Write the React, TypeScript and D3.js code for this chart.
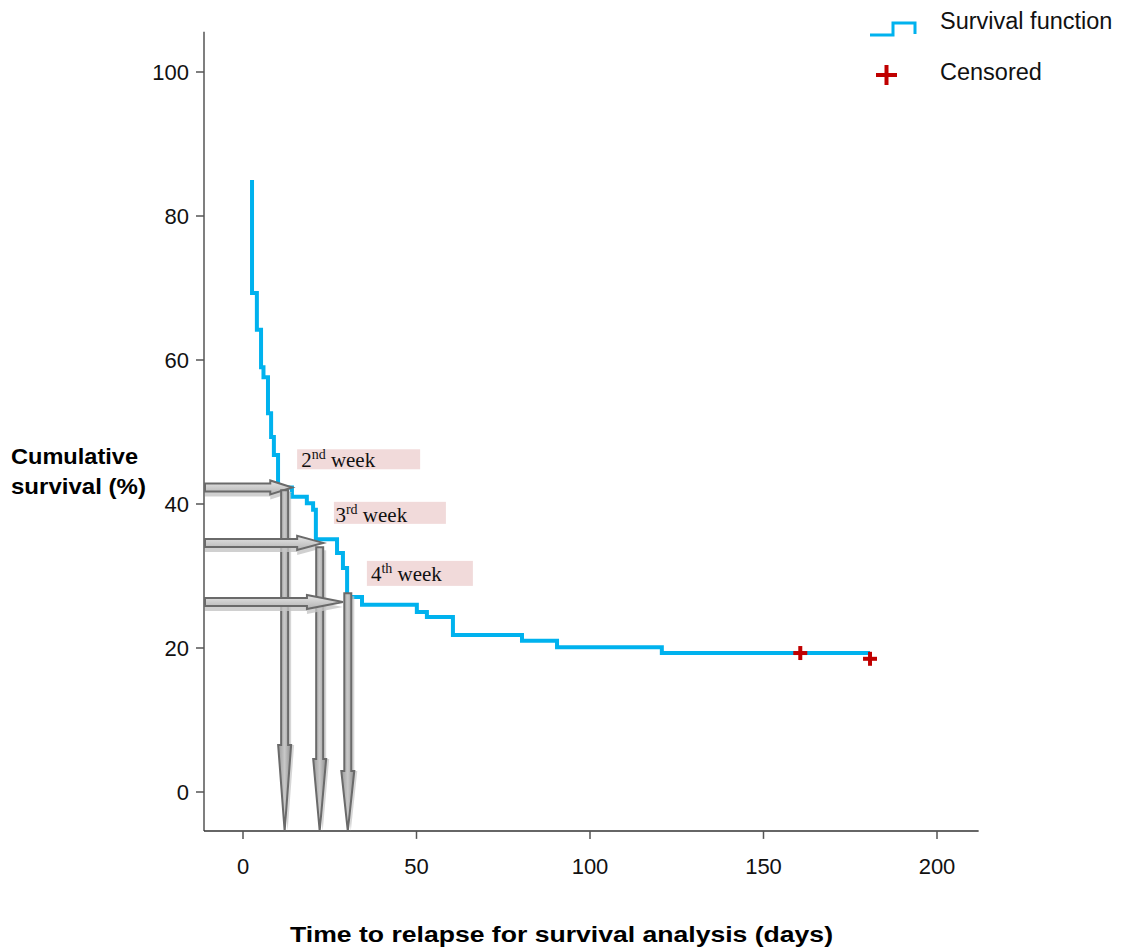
import React from "react";
import * as d3 from "d3";

// survival curve: start point, then step times with value after each step
const startPoint: [number, number] = [2.6, 85];
const stepTimes = [2.6, 4.0, 5.2, 5.9, 7.2, 8.1, 8.9, 10.1, 14.1, 18.4, 20.2, 21.0, 27.1, 28.8, 30.0, 34.3, 50.1, 53.0, 60.5, 80.4, 90.5, 120.7];
const stepValues = [69.3, 64.2, 59.0, 57.6, 52.6, 49.3, 46.8, 42.3, 41.0, 40.1, 39.2, 35.1, 33.2, 31.1, 27.1, 26.0, 25.0, 24.3, 21.8, 21.0, 20.1, 19.3];
const endTime = 180.7;

const censoredTimes = [160.6, 180.7];
const censoredValues = [19.3, 18.5];

// week markers
const weekNums = ["2", "3", "4"];
const weekSups = ["nd", "rd", "th"];
const weekSurv = [42.3, 34.6, 26.4]; // horizontal arrow level
const weekHTip = [14.2, 23.1, 28.8]; // where horizontal arrow ends
const weekDay = [12.0, 22.1, 30.2]; // vertical arrow position
const weekVTop = [41.9, 34.0, 27.6]; // vertical arrow top
const labelDay = [15.6, 26.2, 35.7];
const labelSurv = [47.6, 40.3, 32.1];

const xTicks = [0, 50, 100, 150, 200];
const yTicks = [0, 20, 40, 60, 80, 100];

const BLUE = "#00b2ee";
const RED = "#c00000";
const sans = "'Liberation Sans', Arial, sans-serif";
const serif = "'Liberation Serif', 'Times New Roman', serif";

// styles per week marker
const hHeadLen = [22, 26, 36];
const vHeadLen = [86, 72, 60];
const boxW = [123, 112, 106];
const boxH = [20, 22, 25];

export default function App() {
  const x = d3.scaleLinear().domain([0, 200]).range([243, 937]);
  const y = d3.scaleLinear().domain([0, 100]).range([792, 72]);
  const axisY0 = y(-5.4);

  const pts: [number, number][] = [startPoint];
  stepTimes.forEach((t, i) => pts.push([t, stepValues[i]]));
  pts.push([endTime, stepValues[stepValues.length - 1]]);
  const line = d3
    .line<[number, number]>()
    .x((d) => x(d[0]))
    .y((d) => y(d[1]))
    .curve(d3.curveStepAfter);

  const hArrow = (x0: number, x1: number, cy: number, sw: number, hw: number, hl: number) =>
    [
      [x0, cy - sw],
      [x1 - hl, cy - sw],
      [x1 - hl, cy - hw],
      [x1, cy],
      [x1 - hl, cy + hw],
      [x1 - hl, cy + sw],
      [x0, cy + sw],
    ]
      .map((p) => p.join(","))
      .join(" ");
  const vArrow = (cx: number, y0: number, y1: number, sw: number, hw: number, hl: number) =>
    [
      [cx - sw, y0],
      [cx + sw, y0],
      [cx + sw, y1 - hl],
      [cx + hw, y1 - hl],
      [cx, y1],
      [cx - hw, y1 - hl],
      [cx - sw, y1 - hl],
    ]
      .map((p) => p.join(","))
      .join(" ");

  return (
    <svg width={1122} height={949} style={{ position: "absolute", left: 0, top: 0 }}>
      <defs>
        <linearGradient id="hg" x1="0" y1="0" x2="0" y2="1">
          <stop offset="0" stopColor="#e6e6e6" />
          <stop offset="1" stopColor="#b4b4b4" />
        </linearGradient>
        <linearGradient id="vg" x1="0" y1="0" x2="1" y2="0">
          <stop offset="0" stopColor="#9a9a9a" />
          <stop offset="0.5" stopColor="#c8c8c8" />
          <stop offset="1" stopColor="#8e8e8e" />
        </linearGradient>
      </defs>
      <rect width={1122} height={949} fill="#fff" />

      {/* axes */}
      <line x1={204} x2={204} y1={y(105.6)} y2={axisY0} stroke="#555" strokeWidth={1.5} />
      <line x1={204} x2={x(212)} y1={axisY0} y2={axisY0} stroke="#333" strokeWidth={1.5} />
      {yTicks.map((t) => (
        <g key={"y" + t}>
          <line x1={196} x2={204} y1={y(t)} y2={y(t)} stroke="#555" strokeWidth={1.5} />
          <text x={189} y={y(t)} dy="0.36em" textAnchor="end" fontFamily={sans} fontSize={22} fill="#111">
            {t}
          </text>
        </g>
      ))}
      {xTicks.map((t) => (
        <g key={"x" + t}>
          <line x1={x(t)} x2={x(t)} y1={axisY0} y2={axisY0 + 8} stroke="#555" strokeWidth={1.5} />
          <text x={x(t)} y={874} textAnchor="middle" fontFamily={sans} fontSize={22} fill="#111">
            {t}
          </text>
        </g>
      ))}

      {/* axis titles */}
      <text fontFamily={sans} fontWeight="bold" fontSize={22} fill="#000">
        <tspan x={11} y={464} textLength={127} lengthAdjust="spacingAndGlyphs">Cumulative</tspan>
        <tspan x={11} y={494} textLength={135} lengthAdjust="spacingAndGlyphs">survival (%)</tspan>
      </text>
      <text x={290} y={942} fontFamily={sans} fontWeight="bold" fontSize={22} fill="#000" textLength={543} lengthAdjust="spacingAndGlyphs">
        Time to relapse for survival analysis (days)
      </text>

      {/* survival curve */}
      <path d={line(pts) || ""} fill="none" stroke={BLUE} strokeWidth={4} />

      {/* censored marks */}
      {censoredTimes.map((t, i) => (
        <g key={"c" + i} stroke={RED} strokeWidth={4}>
          <line x1={x(t) - 7} x2={x(t) + 7} y1={y(censoredValues[i])} y2={y(censoredValues[i])} />
          <line x1={x(t)} x2={x(t)} y1={y(censoredValues[i]) - 7} y2={y(censoredValues[i]) + 7} />
        </g>
      ))}

      {/* week labels */}
      {weekNums.map((n, i) => (
        <g key={"l" + i}>
          <rect x={x(labelDay[i])} y={y(labelSurv[i])} width={boxW[i]} height={boxH[i]} fill="#f1dada" />
          <text x={x(labelDay[i]) + (i === 1 ? 1.5 : 4)} y={y(labelSurv[i]) + boxH[i] - (i === 2 ? 5 : 2)} fontFamily={serif} fontSize={21} fill="#111">
            {n}
            <tspan fontSize={14} dy={-8}>{weekSups[i]}</tspan>
            <tspan dy={8}> week</tspan>
          </text>
        </g>
      ))}

      {/* arrows */}
      {weekNums.map((n, i) => {
        const cy = y(weekSurv[i]);
        const tip = x(weekHTip[i]);
        const vx = x(weekDay[i]);
        const vTop = y(weekVTop[i]);
        return (
          <g key={"a" + i}>
            <polygon points={hArrow(205, tip, cy + 5, 4, 7, hHeadLen[i])} fill="#c4c4c4" opacity={0.8} />
            <polygon points={vArrow(vx + 3, vTop + 3, axisY0, 3.5, 6.5, vHeadLen[i])} fill="#c4c4c4" opacity={0.7} />
            <polygon points={hArrow(205, tip, cy, 4, 7, hHeadLen[i])} fill="url(#hg)" stroke="#6a6a6a" strokeWidth={2} strokeLinejoin="miter" />
            <polygon points={vArrow(vx, vTop, axisY0, 3.5, 6.5, vHeadLen[i])} fill="url(#vg)" stroke="#6a6a6a" strokeWidth={2} />
          </g>
        );
      })}

      {/* legend */}
      <path d="M870,35 H893 V23 H915 V34" fill="none" stroke={BLUE} strokeWidth={3} />
      <text x={940} y={29} fontFamily={sans} fontSize={23.5} fill="#111">Survival function</text>
      <g stroke={RED} strokeWidth={4}>
        <line x1={876} x2={897} y1={75} y2={75} />
        <line x1={886.5} x2={886.5} y1={65} y2={85} />
      </g>
      <text x={940} y={80} fontFamily={sans} fontSize={23.5} fill="#111">Censored</text>
    </svg>
  );
}
